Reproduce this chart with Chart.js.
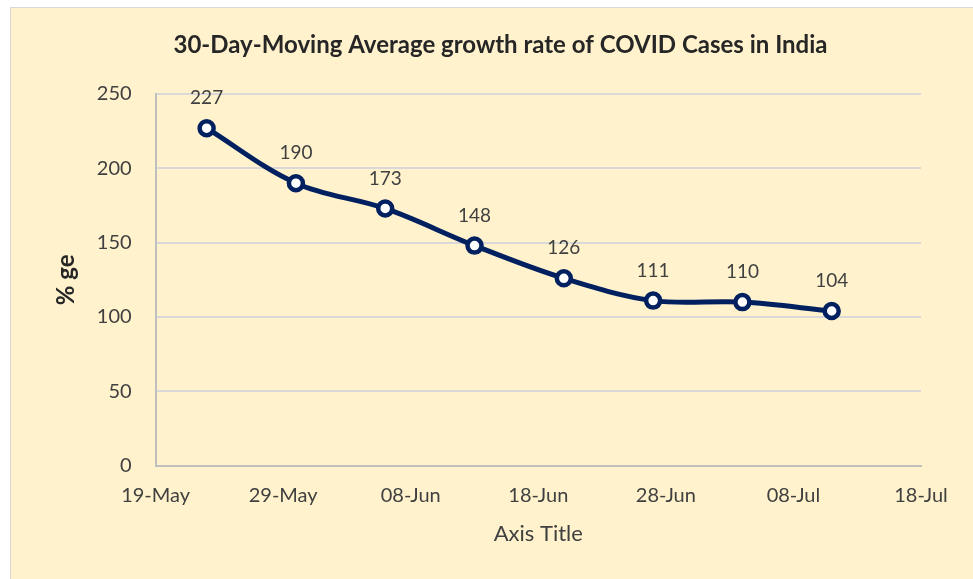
<!DOCTYPE html>
<html>
<head>
<meta charset="utf-8">
<script src="https://cdn.jsdelivr.net/npm/chart.js@4"></script>
<style>
  body { margin: 0; background: #fff; }
  #wrap {
    position: absolute; left: 10px; top: 7px; width: 963px; height: 572px;
    background: #FFF2CC; border-top: 1px solid #d9d9d9; border-left: 1px solid #d9d9d9;
  }
</style>
</head>
<body>
<div id="wrap"><canvas id="myChart" width="963" height="572"></canvas></div>
<script>
// days counted from 19-May
const days = [4, 11, 18, 25, 32, 39, 46, 53]
const growth = [227, 190, 173, 148, 126, 111, 110, 104]
const tickLabels = ['19-May', '29-May', '08-Jun', '18-Jun', '28-Jun', '08-Jul', '18-Jul']
const titleText = '30-Day-Moving Average growth rate of COVID Cases in India'

const ctx = document.getElementById('myChart')
const font = 'Lato, "Open Sans", sans-serif'

const pointLabels = {
  id: 'pointLabels',
  afterDatasetsDraw(chart) {
    const c = chart.ctx
    const meta = chart.getDatasetMeta(0)
    c.save()
    c.font = '19px ' + font
    c.fillStyle = '#404040'
    c.textAlign = 'center'
    c.textBaseline = 'middle'
    meta.data.forEach((p, i) => {
      c.fillText(growth[i], p.x, p.y - 30)
    })
    c.restore()
  }
}

// excel centres the title on the whole chart box, not on the padded area
const chartTitle = {
  id: 'chartTitle',
  afterDraw(chart) {
    const c = chart.ctx
    c.save()
    c.font = 'bold 24px ' + font
    c.fillStyle = '#262626'
    c.textAlign = 'center'
    c.textBaseline = 'middle'
    c.fillText(titleText, chart.width / 2 + 8, 37)
    c.restore()
  }
}

new Chart(ctx, {
  type: 'line',
  data: {
    datasets: [{
      data: days.map((d, i) => ({ x: d, y: growth[i] })),
      borderColor: '#002060',
      borderWidth: 5,
      tension: 0.35,
      pointRadius: 7,
      pointBorderWidth: 4.5,
      pointBackgroundColor: '#ffffff',
      pointBorderColor: '#002060'
    }]
  },
  options: {
    responsive: false,
    animation: false,
    layout: { padding: { left: 37, right: 53, top: 86, bottom: 29 } },
    plugins: {
      legend: { display: false },
      tooltip: { enabled: false },
      title: { display: false }
    },
    scales: {
      x: {
        type: 'linear',
        min: 0, max: 60,
        ticks: {
          stepSize: 10,
          color: '#404040',
          font: { family: font, size: 20 },
          padding: 18,
          callback: (v) => tickLabels[v / 10]
        },
        grid: { display: false, drawTicks: false },
        border: { color: '#bfbfbf', width: 2 },
        title: {
          display: true, text: 'Axis Title', color: '#404040',
          font: { family: font, size: 22 }, padding: { top: -5, bottom: 4 }
        }
      },
      y: {
        min: 0, max: 250,
        ticks: {
          stepSize: 50,
          color: '#404040',
          font: { family: font, size: 20 },
          padding: 24
        },
        grid: { color: '#d9d9d9', lineWidth: 2, drawTicks: false },
        border: { color: '#bfbfbf', width: 2 },
        title: {
          display: true, text: '% ge', color: '#262626',
          font: { family: font, size: 24, weight: 'bold' }, padding: { top: 4, bottom: -8 }
        }
      }
    }
  },
  plugins: [pointLabels, chartTitle]
})
</script>
</body>
</html>
